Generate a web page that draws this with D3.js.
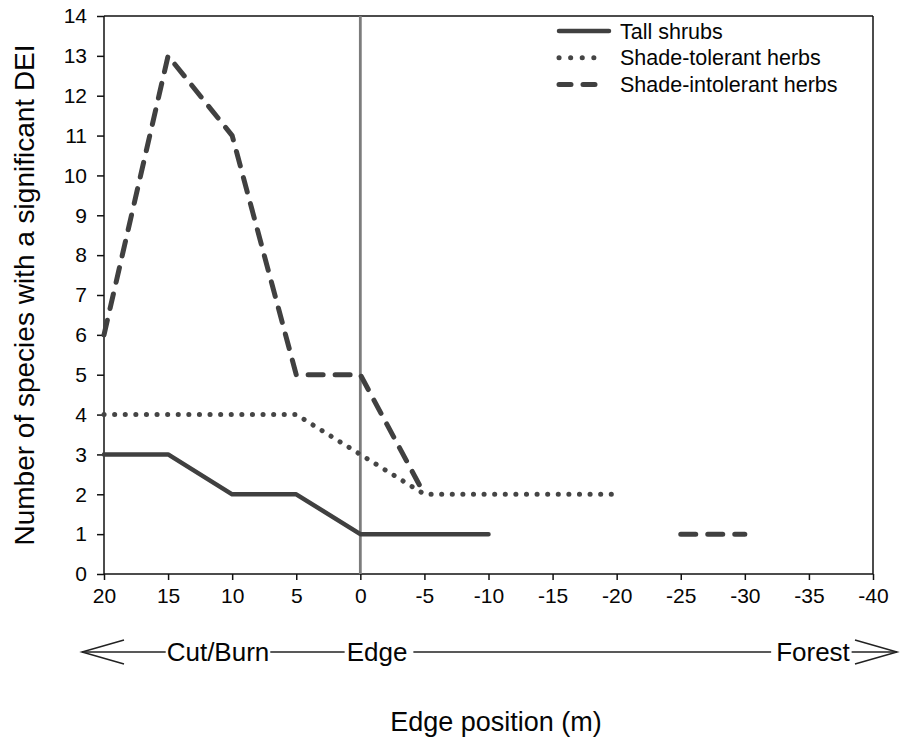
<!DOCTYPE html>
<html>
<head>
<meta charset="utf-8">
<script src="https://cdn.jsdelivr.net/npm/d3@7/dist/d3.min.js"></script>
<style>
  html, body { margin: 0; padding: 0; background: #fff; }
  svg text { font-family: Arial, "Liberation Sans", Helvetica, sans-serif; fill: #050505; }
</style>
</head>
<body>
<svg id="chart" width="900" height="738"></svg>
<script>
// Distance from the edge (m); positive = cut/burn side, negative = forest side
const positions = [20, 15, 10, 5, 0, -5, -10, -15, -20, -25, -30, -35, -40];
// Number of species with a significant DEI at each position (null = no value)
const tallShrubs      = [3, 3, 2, 2, 1, 1, 1, null, null, null, null, null, null];
const shadeTolerant   = [4, 4, 4, 4, 3, 2, 2, 2, 2, null, null, null, null];
const shadeIntolerant = [6, 13, 11, 5, 5, 2, null, null, null, 1, 1, null, null];

const xTicks = [20, 15, 10, 5, 0, -5, -10, -15, -20, -25, -30, -35, -40];
const yTicks = [0, 1, 2, 3, 4, 5, 6, 7, 8, 9, 10, 11, 12, 13, 14];
const seriesNames = ["Tall shrubs", "Shade-tolerant herbs", "Shade-intolerant herbs"];
const zoneLabels = ["Cut/Burn", "Edge", "Forest"];

const svg = d3.select("#chart");
const plotL = 104, plotR = 873, plotT = 16, plotB = 574;

const x = d3.scaleLinear().domain([20, -40]).range([plotL, plotR]);
const y = d3.scaleLinear().domain([0, 14]).range([plotB, plotT]);

// Series styles
const styles = [
  { data: tallShrubs,      stroke: "#404040", width: 4.5, dash: null,       cap: "round" },
  { data: shadeTolerant,   stroke: "#454545", width: 5,   dash: "0.1 10.5", cap: "round" },
  { data: shadeIntolerant, stroke: "#404040", width: 5,   dash: "15 12",    cap: "round" }
];

// Frame: top and right borders
svg.append("line").attr("x1", plotL).attr("x2", plotR).attr("y1", plotT).attr("y2", plotT)
  .attr("stroke", "#111").attr("stroke-width", 1.5);
svg.append("line").attr("x1", plotR).attr("x2", plotR).attr("y1", plotT).attr("y2", plotB)
  .attr("stroke", "#111").attr("stroke-width", 1.5);

// Axes (plain hyphen for negative labels)
const fmt = d => String(d);
const xAxis = d3.axisBottom(x).tickValues(xTicks).tickSize(6).tickPadding(9).tickFormat(fmt);
const yAxis = d3.axisLeft(y).tickValues(yTicks).tickSize(7).tickPadding(10).tickFormat(fmt);

const gx = svg.append("g").attr("transform", `translate(0,${plotB})`).call(xAxis);
const gy = svg.append("g").attr("transform", `translate(${plotL},0)`).call(yAxis);
[gx, gy].forEach(g => {
  g.select(".domain").attr("stroke", "#111").attr("stroke-width", 1.5);
  g.selectAll(".tick line").attr("stroke", "#111").attr("stroke-width", 1.5);
  g.selectAll(".tick text").attr("font-size", 21).attr("fill", "#050505")
    .style("font-family", "Arial, 'Liberation Sans', sans-serif");
});
gx.selectAll(".tick text").attr("dy", "0.68em");
gx.select(".domain").attr("d", `M${plotL},0H${plotR}`);
gy.select(".domain").attr("d", `M0,${plotB}V${plotT}`);

// Vertical reference line at the edge (0 m)
svg.append("line")
  .attr("x1", x(0)).attr("x2", x(0)).attr("y1", plotT).attr("y2", plotB)
  .attr("stroke", "#7c7c7c").attr("stroke-width", 2.8);

// Series lines
styles.forEach(s => {
  const pts = positions.map((p, i) => ({ p, v: s.data[i] }));
  const line = d3.line()
    .defined(d => d.v !== null)
    .x(d => x(d.p))
    .y(d => y(d.v));
  svg.append("path")
    .datum(pts)
    .attr("d", line)
    .attr("fill", "none")
    .attr("stroke", s.stroke)
    .attr("stroke-width", s.width)
    .attr("stroke-linecap", s.cap)
    .attr("stroke-linejoin", "round")
    .attr("stroke-dasharray", s.dash);
});

// Legend
const legend = svg.append("g").attr("transform", "translate(557,31)");
seriesNames.forEach((name, i) => {
  const g = legend.append("g").attr("transform", `translate(0,${i * 26.7})`);
  const s = styles[i];
  g.append("line")
    .attr("x1", 2).attr("x2", i === 0 ? 52 : (i === 1 ? 48 : 46)).attr("y1", 0).attr("y2", 0)
    .attr("stroke", s.stroke)
    .attr("stroke-width", s.width)
    .attr("stroke-linecap", s.cap)
    .attr("stroke-dasharray", i === 1 ? "0.1 11.5" : (i === 2 ? "12 12" : null));
  g.append("text")
    .attr("x", 63).attr("y", 7.5)
    .attr("font-size", 21.5)
    .text(name);
});

// Zone annotation with double-headed arrow below the axis
const arrowY = 652;
const zoneFont = 26;
const zoneX = [218, 377, 813];
const zone = svg.append("g");
const texts = zoneLabels.map((t, i) => zone.append("text")
  .attr("x", zoneX[i]).attr("y", arrowY + 9)
  .attr("text-anchor", "middle")
  .attr("font-size", zoneFont)
  .text(t));
const boxes = texts.map(t => t.node().getBBox());
const segs = [
  [82, boxes[0].x - 1],
  [boxes[0].x + boxes[0].width + 1, boxes[1].x - 2],
  [boxes[1].x + boxes[1].width + 6, boxes[2].x - 5],
  [boxes[2].x + boxes[2].width + 1, 897]
];
segs.forEach(([a, b]) => {
  zone.append("line").attr("x1", a).attr("x2", b).attr("y1", arrowY).attr("y2", arrowY)
    .attr("stroke", "#222").attr("stroke-width", 1.5);
});
// Open arrowheads
zone.append("path")
  .attr("d", `M124,${arrowY - 12}L82,${arrowY}L124,${arrowY + 12}`)
  .attr("fill", "none").attr("stroke", "#222").attr("stroke-width", 1.5);
zone.append("path")
  .attr("d", `M855,${arrowY - 12}L897,${arrowY}L855,${arrowY + 12}`)
  .attr("fill", "none").attr("stroke", "#222").attr("stroke-width", 1.5);

// Axis titles
svg.append("text")
  .attr("x", 496).attr("y", 731)
  .attr("text-anchor", "middle")
  .attr("font-size", 27)
  .text("Edge position (m)");

svg.append("text")
  .attr("transform", "translate(34,295) rotate(-90)")
  .attr("text-anchor", "middle")
  .attr("font-size", 28)
  .text("Number of species with a significant DEI");
</script>
</body>
</html>
